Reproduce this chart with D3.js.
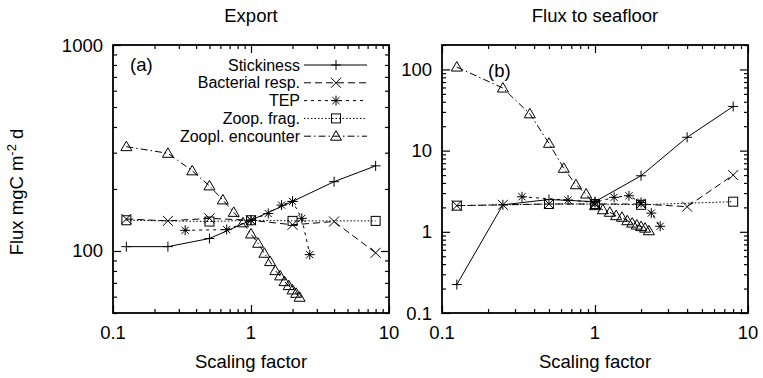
<!DOCTYPE html>
<html>
<head>
<meta charset="utf-8">
<script src="https://cdn.jsdelivr.net/npm/d3@7"></script>
<style>
  body { margin: 0; background: #fff; }
  svg text { font-family: "Liberation Sans", Arial, sans-serif; fill: #000; }
</style>
</head>
<body>
<div id="chart"></div>
<script>
// scaling factors
const xPow2 = [0.125, 0.25, 0.5, 1, 2, 4, 8];
const xTep = [1/3, 2/3, 1, 4/3, 5/3, 2, 7/3, 8/3];
const xFrag = [0.125, 0.5, 1, 2, 8];
const xEnc = [0.125, 0.25, 0.375, 0.5, 0.625, 0.75, 0.875, 1, 1.125, 1.25, 1.375, 1.5, 1.625, 1.75, 1.875, 2, 2.125, 2.25];

// (a) Export
const stickExport = [105, 105, 115, 141, 174, 217, 259];
const bactExport = [143, 140, 144, 141, 134, 139, 98];
const tepExport = [126, 127, 141, 152, 167, 174, 144, 96];
const fragExport = [141, 139, 141, 140, 140];
const encExport = [321, 298, 245, 207, 177, 154, 137, 121, 109, 97.5, 88.8, 80.3, 75.7, 71, 67.9, 64.7, 62.3, 59.6];

// (b) Flux to seafloor
const stickSea = [0.224, 2.15, 2.5, 2.35, 4.9, 14.6, 35];
const bactSea = [2.1, 2.15, 2.2, 2.2, 2.2, 2.04, 5.0];
const tepSea = [2.7, 2.46, 2.3, 2.66, 2.78, 2.3, 1.70, 1.17];
const fragSea = [2.1, 2.2, 2.2, 2.15, 2.35];
const encSea = [107, 59, 28.4, 12.3, 6.06, 3.8, 2.92, 2.1, 1.87, 1.74, 1.58, 1.51, 1.37, 1.28, 1.21, 1.16, 1.11, 1.03];

const seriesNames = ["Stickiness", "Bacterial resp.", "TEP", "Zoop. frag.", "Zoopl. encounter"];
const xTickLabels = ["0.1", "1", "10"];

const width = 763, height = 378;
const plotTop = 45, plotBottom = 313;
const fs = 18.5;      // axis / title text
const fsLeg = 16;     // legend text

const dashes = ["none", "7,4", "3,4", "1.5,2", "7,3,1.5,3"];
const symbols = ["plus", "cross", "star", "square", "triangle"];

const svg = d3.select("#chart").append("svg")
  .attr("width", width).attr("height", height);

function marker(g, type, cx, cy) {
  const s = 5;
  if (type === "plus" || type === "star") {
    g.append("path").attr("d", `M${cx-s},${cy}H${cx+s}M${cx},${cy-s}V${cy+s}`)
      .attr("stroke", "#000").attr("stroke-width", 1);
  }
  if (type === "cross" || type === "star") {
    const c = type === "star" ? 3.6 : s;
    g.append("path").attr("d", `M${cx-c},${cy-c}L${cx+c},${cy+c}M${cx-c},${cy+c}L${cx+c},${cy-c}`)
      .attr("stroke", "#000").attr("stroke-width", 1);
  }
  if (type === "square") {
    g.append("rect").attr("x", cx-4.5).attr("y", cy-4.5).attr("width", 9).attr("height", 9)
      .attr("fill", "none").attr("stroke", "#000").attr("stroke-width", 1);
  }
  if (type === "triangle") {
    g.append("path").attr("d", `M${cx},${cy-5.5}L${cx+5.5},${cy+4}L${cx-5.5},${cy+4}Z`)
      .attr("fill", "none").attr("stroke", "#000").attr("stroke-width", 1);
  }
}

function drawPanel(opt) {
  const x = d3.scaleLog().domain([0.1, 10]).range([opt.left, opt.right]);
  const y = d3.scaleLog().domain(opt.yDomain).range([plotBottom, plotTop]);
  const g = svg.append("g");

  const isMajor = v => Math.abs(Math.log10(v) - Math.round(Math.log10(v))) < 1e-6;
  const xt = x.ticks(), yt = y.ticks();
  const axes = [
    [d3.axisBottom, x, xt, `translate(0,${plotBottom})`],
    [d3.axisTop, x, xt, `translate(0,${plotTop})`],
    [d3.axisLeft, y, yt, `translate(${opt.left},0)`],
    [d3.axisRight, y, yt, `translate(${opt.right},0)`]
  ];
  axes.forEach(([fn, sc, ticks, tr]) => {
    const ag = g.append("g").attr("transform", tr);
    ag.call(fn(sc).tickValues(ticks.filter(isMajor)).tickSize(-8).tickFormat(""));
    ag.append("g").call(fn(sc).tickValues(ticks.filter(v => !isMajor(v))).tickSize(-4).tickFormat(""));
    ag.selectAll(".domain").remove();
    ag.selectAll("line").attr("stroke", "#000").attr("stroke-width", 1.2);
  });

  g.append("rect").attr("x", opt.left).attr("y", plotTop)
    .attr("width", opt.right - opt.left).attr("height", plotBottom - plotTop)
    .attr("fill", "none").attr("stroke", "#000").attr("stroke-width", 1.8);

  // tick labels
  g.selectAll(".xl").data(xTickLabels).enter().append("text")
    .attr("x", d => x(+d)).attr("y", 339).attr("text-anchor", "middle")
    .attr("font-size", fs).text(d => d);
  g.selectAll(".yl").data(opt.yLabels).enter().append("text")
    .attr("x", opt.left - 10).attr("y", d => y(+d) + 6.5).attr("text-anchor", "end")
    .attr("font-size", fs).text(d => d);

  g.append("text").attr("x", (opt.left + opt.right) / 2).attr("y", 368)
    .attr("text-anchor", "middle").attr("font-size", fs).text("Scaling factor");
  g.append("text").attr("x", (opt.left + opt.right) / 2).attr("y", 22)
    .attr("text-anchor", "middle").attr("font-size", fs).text(opt.title);
  g.append("text").attr("x", opt.left + opt.tagDx).attr("y", opt.tagY)
    .attr("font-size", fs).text(opt.tag);

  const line = d3.line().x(d => x(d[0])).y(d => y(d[1]));
  opt.series.forEach((s, i) => {
    const pts = s.xs.map((v, j) => [v, s.ys[j]]);
    g.append("path").datum(pts).attr("d", line)
      .attr("fill", "none").attr("stroke", "#000").attr("stroke-width", 1)
      .attr("stroke-dasharray", dashes[i] === "none" ? null : dashes[i]);
    pts.forEach(p => marker(g, symbols[i], x(p[0]), y(p[1])));
  });
}

drawPanel({
  left: 113, right: 389, yDomain: [50, 1000], yLabels: ["100", "1000"],
  title: "Export", tag: "(a)", tagDx: 17, tagY: 71,
  series: [
    {xs: xPow2, ys: stickExport},
    {xs: xPow2, ys: bactExport},
    {xs: xTep, ys: tepExport},
    {xs: xFrag, ys: fragExport},
    {xs: xEnc, ys: encExport}
  ]
});

drawPanel({
  left: 442, right: 748, yDomain: [0.1, 200], yLabels: ["0.1", "1", "10", "100"],
  title: "Flux to seafloor", tag: "(b)", tagDx: 46, tagY: 77,
  series: [
    {xs: xPow2, ys: stickSea},
    {xs: xPow2, ys: bactSea},
    {xs: xTep, ys: tepSea},
    {xs: xFrag, ys: fragSea},
    {xs: xEnc, ys: encSea}
  ]
});

// legend in panel (a)
const leg = svg.append("g");
seriesNames.forEach((name, i) => {
  const ly = 65 + i * 17.8;
  leg.append("text").attr("x", 300).attr("y", ly + 5.5).attr("text-anchor", "end")
    .attr("font-size", fsLeg).text(name);
  leg.append("line").attr("x1", 304).attr("x2", 367).attr("y1", ly).attr("y2", ly)
    .attr("stroke", "#000").attr("stroke-width", 1)
    .attr("stroke-dasharray", dashes[i] === "none" ? null : dashes[i]);
  marker(leg, symbols[i], 336, ly);
});

// y axis title
const yTitle = svg.append("text").attr("transform", "translate(23,192) rotate(-90)")
  .attr("text-anchor", "middle").attr("font-size", fs);
yTitle.append("tspan").text("Flux mgC m");
yTitle.append("tspan").attr("dy", -7).attr("font-size", 13).text("-2");
yTitle.append("tspan").attr("dy", 7).text(" d");
</script>
</body>
</html>
